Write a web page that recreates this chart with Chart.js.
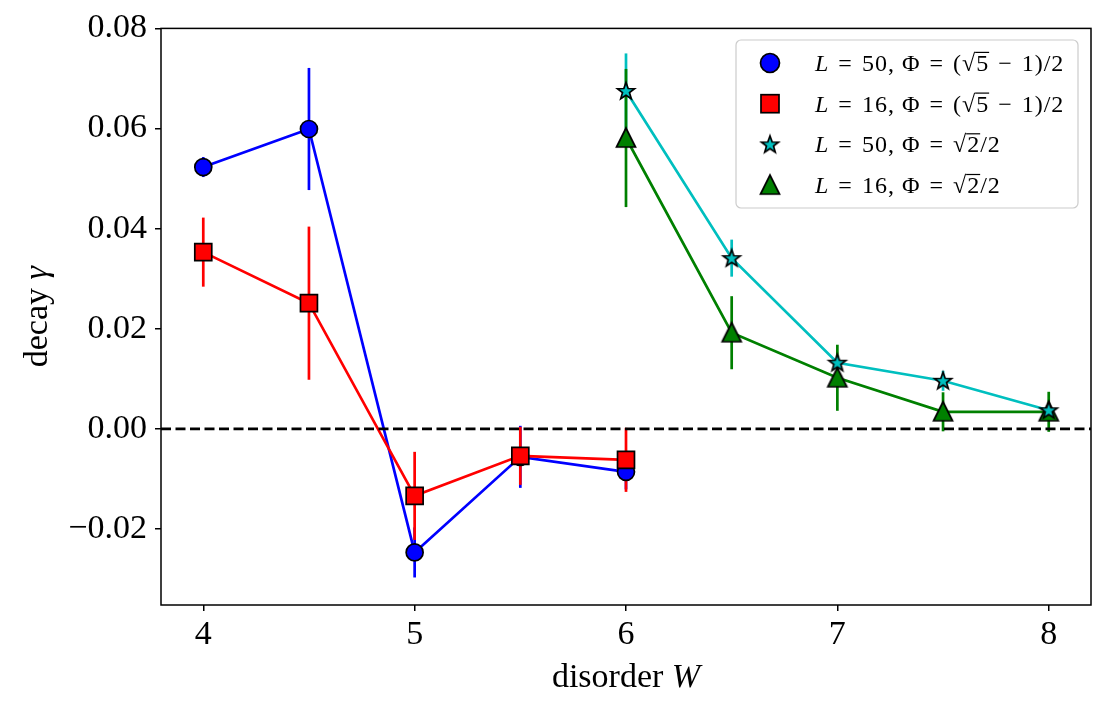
<!DOCTYPE html>
<html>
<head>
<meta charset="utf-8">
<script src="https://cdn.jsdelivr.net/npm/chart.js@4"></script>
<style>
  html, body { margin: 0; padding: 0; background: #fff; }
</style>
</head>
<body>
<canvas id="decayChart" width="1115" height="710"></canvas>
<script>
// disorder values for the two flux choices
const goldenW = [4, 4.5, 5, 5.5, 6];
const sqrt2W = [6, 6.5, 7, 7.5, 8];

// decay gamma and its error
const decayL50Golden = [0.0523, 0.0599, -0.0247, -0.0056, -0.0086];
const errL50Golden = [0.002, 0.0122, 0.005, 0.0062, 0.0035];
const decayL16Golden = [0.0353, 0.0251, -0.0134, -0.0054, -0.0062];
const errL16Golden = [0.0069, 0.0153, 0.0088, 0.0058, 0.0064];
const decayL50Sqrt2 = [0.0675, 0.0341, 0.0132, 0.0096, 0.0037];
const errL50Sqrt2 = [0.0075, 0.0037, 0.0015, 0.002, 0.001];
const decayL16Sqrt2 = [0.0581, 0.0192, 0.0102, 0.0034, 0.0034];
const errL16Sqrt2 = [0.0138, 0.0073, 0.0066, 0.0039, 0.004];

const xTicks = [4, 5, 6, 7, 8];
const yTicks = [-0.02, 0, 0.02, 0.04, 0.06, 0.08];
const xRange = [3.8, 8.2];
const yRange = [-0.0352, 0.08];

const serif = '"Liberation Serif", "DejaVu Serif", serif';
const lineW = 2.7;

// star and triangle markers like matplotlib's, centred on their box
function makeStar() {
  const c = document.createElement('canvas');
  c.width = 24; c.height = 24;
  const g = c.getContext('2d');
  g.beginPath();
  for (let k = 0; k < 10; k++) {
    const r = k % 2 === 0 ? 9 : 3.7;
    const a = -Math.PI / 2 + k * Math.PI / 5;
    const px = 12 + r * Math.cos(a);
    const py = 12.5 + r * Math.sin(a);
    if (k === 0) g.moveTo(px, py); else g.lineTo(px, py);
  }
  g.closePath();
  g.fillStyle = '#00bfbf';
  g.fill();
  g.lineWidth = 1.7;
  g.lineJoin = 'miter';
  g.strokeStyle = '#000';
  g.stroke();
  return c;
}

function makeTriangle() {
  const c = document.createElement('canvas');
  c.width = 26; c.height = 26;
  const g = c.getContext('2d');
  g.beginPath();
  g.moveTo(13, 3);
  g.lineTo(3.5, 22);
  g.lineTo(22.5, 22);
  g.closePath();
  g.fillStyle = '#008000';
  g.fill();
  g.lineWidth = 1.7;
  g.strokeStyle = '#000';
  g.stroke();
  return c;
}

const starImg = makeStar();
const triImg = makeTriangle();

function pts(xs, ys) {
  return xs.map((x, i) => ({ x: x, y: ys[i] }));
}

// text with italic pieces and a square root
function partsWidth(ctx, parts, size) {
  let w = 0;
  for (const [txt, kind] of parts) {
    ctx.font = (kind === 'i' ? 'italic ' : '') + size + 'px ' + serif;
    if (kind === 's') w += ctx.measureText('√').width;
    w += ctx.measureText(txt).width;
  }
  return w;
}

function drawParts(ctx, parts, x, y, size) {
  let cx = x;
  for (const [txt, kind] of parts) {
    ctx.font = (kind === 'i' ? 'italic ' : '') + size + 'px ' + serif;
    if (kind === 's') {
      const rw = ctx.measureText('√').width;
      ctx.fillText('√', cx, y);
      cx += rw;
      const w = ctx.measureText(txt).width;
      ctx.fillText(txt, cx, y);
      ctx.fillRect(cx - 1, y - size * 0.8, w + 1, Math.max(1, size * 0.05));
      cx += w;
    } else {
      ctx.fillText(txt, cx, y);
      cx += ctx.measureText(txt).width;
    }
  }
}

// a bit wider spaces around relations, like math spacing
const sp = '\u2004';
const legendItems = [
  { marker: 'circle', parts: [['L', 'i'], [sp + '=' + sp + '50, Φ' + sp + '=' + sp + '(', 'n'], ['5', 's'], [sp + '−' + sp + '1)/2', 'n']] },
  { marker: 'rect', parts: [['L', 'i'], [sp + '=' + sp + '16, Φ' + sp + '=' + sp + '(', 'n'], ['5', 's'], [sp + '−' + sp + '1)/2', 'n']] },
  { marker: 'star', parts: [['L', 'i'], [sp + '=' + sp + '50, Φ' + sp + '=' + sp, 'n'], ['2', 's'], ['/2', 'n']] },
  { marker: 'tri', parts: [['L', 'i'], [sp + '=' + sp + '16, Φ' + sp + '=' + sp, 'n'], ['2', 's'], ['/2', 'n']] }
];

function drawMarker(ctx, kind, x, y) {
  ctx.save();
  ctx.lineWidth = 1.7;
  ctx.strokeStyle = '#000';
  if (kind === 'circle') {
    ctx.beginPath();
    ctx.arc(x, y, 9.5, 0, Math.PI * 2);
    ctx.fillStyle = '#0000ff';
    ctx.fill();
    ctx.stroke();
  } else if (kind === 'rect') {
    ctx.fillStyle = '#ff0000';
    ctx.fillRect(x - 9, y - 9, 18, 18);
    ctx.strokeRect(x - 9, y - 9, 18, 18);
  } else if (kind === 'star') {
    ctx.drawImage(starImg, x - 12, y - 12);
  } else {
    ctx.drawImage(triImg, x - 13, y - 13);
  }
  ctx.restore();
}

const errorBars = {
  id: 'errorBars',
  beforeDatasetsDraw(chart) {
    const { ctx, scales } = chart;
    ctx.save();
    ctx.lineWidth = lineW;
    chart.data.datasets.forEach(ds => {
      if (!ds.errors) return;
      ctx.strokeStyle = ds.borderColor;
      ds.data.forEach((p, i) => {
        const px = scales.x.getPixelForValue(p.x);
        ctx.beginPath();
        ctx.moveTo(px, scales.y.getPixelForValue(p.y - ds.errors[i]));
        ctx.lineTo(px, scales.y.getPixelForValue(p.y + ds.errors[i]));
        ctx.stroke();
      });
    });
    ctx.restore();
  }
};

const frameAndLabels = {
  id: 'frameAndLabels',
  afterDraw(chart) {
    const { ctx, chartArea: a } = chart;
    ctx.save();
    ctx.strokeStyle = '#000';
    ctx.lineWidth = 1.5;
    ctx.strokeRect(a.left, a.top, a.right - a.left, a.bottom - a.top);

    // legend box
    const bx = 736, by = 40, bw = 342, bh = 168;
    ctx.beginPath();
    ctx.roundRect(bx, by, bw, bh, 5);
    ctx.fillStyle = 'rgba(255,255,255,0.8)';
    ctx.fill();
    ctx.strokeStyle = '#cccccc';
    ctx.lineWidth = 1.2;
    ctx.stroke();
    ctx.fillStyle = '#000';
    ctx.textBaseline = 'alphabetic';
    ctx.letterSpacing = '1px';
    legendItems.forEach((item, i) => {
      const rowY = 63 + i * 40.7;
      drawMarker(ctx, item.marker, 770, rowY);
      ctx.fillStyle = '#000';
      drawParts(ctx, item.parts, 815, rowY + 8, 24);
    });
    ctx.letterSpacing = '0px';

    // axis titles
    const xt = [['disorder ', 'n'], ['W', 'i']];
    const xw = partsWidth(ctx, xt, 34);
    drawParts(ctx, xt, (a.left + a.right) / 2 - xw / 2, 687, 34);
    const yt = [['decay ', 'n'], ['γ', 'i']];
    const yw = partsWidth(ctx, yt, 34);
    ctx.translate(47, (a.top + a.bottom) / 2);
    ctx.rotate(-Math.PI / 2);
    drawParts(ctx, yt, -yw / 2, 0, 34);
    ctx.restore();
  }
};

new Chart(document.querySelector('#decayChart'), {
  type: 'line',
  data: {
    datasets: [
      {
        label: 'zero',
        data: pts(xRange, [0, 0]),
        borderColor: '#000',
        borderWidth: lineW,
        borderDash: [10, 4.5],
        pointRadius: 0,
        order: 0
      },
      {
        label: 'L=50 golden',
        data: pts(goldenW, decayL50Golden),
        errors: errL50Golden,
        borderColor: '#0000ff',
        backgroundColor: '#0000ff',
        borderWidth: lineW,
        pointStyle: 'circle',
        pointRadius: 8.5,
        pointBorderColor: '#000',
        pointBorderWidth: 1.7,
        order: 4
      },
      {
        label: 'L=16 golden',
        data: pts(goldenW, decayL16Golden),
        errors: errL16Golden,
        borderColor: '#ff0000',
        backgroundColor: '#ff0000',
        borderWidth: lineW,
        pointStyle: 'rect',
        pointRadius: 12,
        pointBorderColor: '#000',
        pointBorderWidth: 1.7,
        order: 3
      },
      {
        label: 'L=50 sqrt2',
        data: pts(sqrt2W, decayL50Sqrt2),
        errors: errL50Sqrt2,
        borderColor: '#00bfbf',
        backgroundColor: '#00bfbf',
        borderWidth: lineW,
        pointStyle: starImg,
        order: 1
      },
      {
        label: 'L=16 sqrt2',
        data: pts(sqrt2W, decayL16Sqrt2),
        errors: errL16Sqrt2,
        borderColor: '#008000',
        backgroundColor: '#008000',
        borderWidth: lineW,
        pointStyle: triImg,
        order: 2
      }
    ]
  },
  options: {
    responsive: false,
    animation: false,
    layout: { padding: { top: 28, right: 24, left: 0, bottom: 0 } },
    plugins: {
      legend: { display: false },
      tooltip: { enabled: false }
    },
    scales: {
      x: {
        type: 'linear',
        min: xRange[0],
        max: xRange[1],
        afterBuildTicks: s => { s.ticks = xTicks.map(v => ({ value: v })); },
        afterFit: s => { s.height = 105; },
        grid: { drawOnChartArea: false, drawTicks: true, tickLength: 6, color: '#000', lineWidth: 1.5 },
        border: { display: false },
        ticks: {
          autoSkip: false,
          maxRotation: 0,
          padding: 4,
          color: '#000',
          font: { family: serif, size: 34 },
          callback: v => String(v)
        }
      },
      y: {
        type: 'linear',
        min: yRange[0],
        max: yRange[1],
        afterBuildTicks: s => { s.ticks = yTicks.map(v => ({ value: v })); },
        afterFit: s => { s.width = 161; },
        grid: { drawOnChartArea: false, drawTicks: true, tickLength: 6, color: '#000', lineWidth: 1.5 },
        border: { display: false },
        ticks: {
          autoSkip: false,
          padding: 8,
          color: '#000',
          font: { family: serif, size: 34 },
          callback: v => (v < 0 ? '−' : '') + Math.abs(v).toFixed(2)
        }
      }
    }
  },
  plugins: [errorBars, frameAndLabels]
});
</script>
</body>
</html>
